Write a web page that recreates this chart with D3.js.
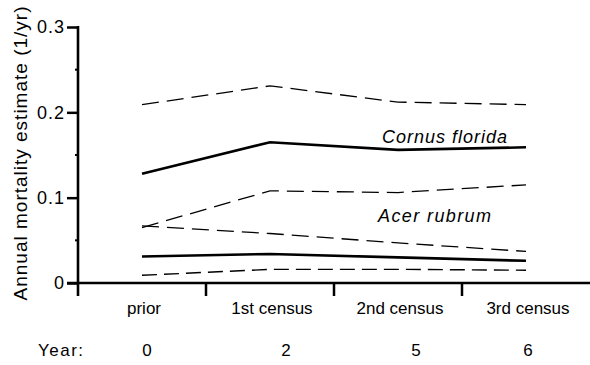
<!DOCTYPE html>
<html>
<head>
<meta charset="utf-8">
<script src="https://cdn.jsdelivr.net/npm/d3@7"></script>
<style>
  body { margin: 0; background: #fff; }
  svg { font-family: "Liberation Sans", Arial, sans-serif; }
</style>
</head>
<body>
<div id="chart"></div>
<script>
// Census periods and elapsed years
const periods = ['prior', '1st census', '2nd census', '3rd census'];
const years = ['0', '2', '5', '6'];
const yTicks = [0, 0.1, 0.2, 0.3];
const yMinorTicks = [0.05, 0.15, 0.25];

// Cornus florida: estimate and confidence bounds
const cornusEst = [0.128, 0.165, 0.156, 0.159];
const cornusUpper = [0.209, 0.231, 0.212, 0.209];
const cornusLower = [0.065, 0.108, 0.106, 0.115];

// Acer rubrum: estimate and confidence bounds
const acerEst = [0.031, 0.034, 0.030, 0.026];
const acerUpper = [0.067, 0.058, 0.047, 0.037];
const acerLower = [0.009, 0.016, 0.016, 0.015];

const width = 590, height = 365;

const svg = d3.select('#chart').append('svg')
    .attr('width', width)
    .attr('height', height);

const x = d3.scaleBand()
    .domain(periods)
    .range([78, 590]);

const y = d3.scaleLinear()
    .domain([0, 0.3])
    .range([283, 27]);

const cx = p => x(p) + x.bandwidth() / 2;

// Series lines
const line = d3.line()
    .x((d, i) => cx(periods[i]))
    .y(d => y(d));

const series = [
    {values: cornusUpper, width: 1.3, dash: '17,8'},
    {values: cornusEst, width: 2.6, dash: null},
    {values: cornusLower, width: 1.3, dash: '17,8'},
    {values: acerUpper, width: 1.3, dash: '17,8'},
    {values: acerEst, width: 2.6, dash: null},
    {values: acerLower, width: 1.4, dash: '15,7'}
];

series.forEach(s => {
    svg.append('path')
        .datum(s.values)
        .attr('d', line)
        .attr('fill', 'none')
        .attr('stroke', '#000')
        .attr('stroke-width', s.width)
        .attr('stroke-dasharray', s.dash);
});

// Y axis
const yAxis = d3.axisLeft(y)
    .tickValues(yTicks)
    .tickSize(11)
    .tickPadding(2)
    .tickFormat(d => d === 0 ? '0' : d3.format('.1f')(d));

const gy = svg.append('g')
    .attr('transform', 'translate(78,0)')
    .call(yAxis);
gy.select('.domain').remove();
gy.selectAll('.tick line').attr('stroke-width', 2.5);
gy.selectAll('.tick text')
    .attr('fill', '#000')
    .style('font-size', '18px')
    .style('letter-spacing', '1px')
    .style('font-family', 'inherit');

svg.append('g')
    .selectAll('line')
    .data(yMinorTicks)
    .enter().append('line')
    .attr('x1', 75).attr('x2', 78)
    .attr('y1', d => y(d)).attr('y2', d => y(d))
    .attr('stroke', '#000')
    .attr('stroke-width', 2);

svg.append('line')
    .attr('x1', 78).attr('x2', 78)
    .attr('y1', y(0.3) - 1).attr('y2', 296)
    .attr('stroke', '#000')
    .attr('stroke-width', 2.6);

// X axis
svg.append('line')
    .attr('x1', 67).attr('x2', 590)
    .attr('y1', y(0)).attr('y2', y(0))
    .attr('stroke', '#000')
    .attr('stroke-width', 2.6);

svg.append('g')
    .selectAll('line')
    .data(periods.slice(1))
    .enter().append('line')
    .attr('x1', d => x(d)).attr('x2', d => x(d))
    .attr('y1', y(0)).attr('y2', 296)
    .attr('stroke', '#000')
    .attr('stroke-width', 2.5);

svg.append('g')
    .selectAll('text')
    .data(periods)
    .enter().append('text')
    .attr('x', d => cx(d) + 2)
    .attr('y', 314)
    .attr('text-anchor', 'middle')
    .style('font-size', '17px')
    .text(d => d);

// Year row
const yearNudge = [5, 16, 18, 2];
svg.append('text')
    .attr('x', 38)
    .attr('y', 356)
    .style('font-size', '17px')
    .style('letter-spacing', '1.5px')
    .text('Year:');

svg.append('g')
    .selectAll('text')
    .data(years)
    .enter().append('text')
    .attr('x', (d, i) => cx(periods[i]) + yearNudge[i])
    .attr('y', 356)
    .attr('text-anchor', 'middle')
    .style('font-size', '17px')
    .text(d => d);

// Y axis title
svg.append('text')
    .attr('transform', 'translate(27,153) rotate(-90)')
    .attr('text-anchor', 'middle')
    .style('font-size', '19px')
    .style('letter-spacing', '1px')
    .text('Annual mortality estimate (1/yr)');

// Species labels
svg.append('text')
    .attr('x', 382)
    .attr('y', 143)
    .style('font-size', '18px')
    .style('font-style', 'italic')
    .style('letter-spacing', '1px')
    .text('Cornus florida');

svg.append('text')
    .attr('x', 378)
    .attr('y', 222)
    .style('font-size', '18px')
    .style('font-style', 'italic')
    .style('letter-spacing', '1.4px')
    .text('Acer rubrum');
</script>
</body>
</html>
